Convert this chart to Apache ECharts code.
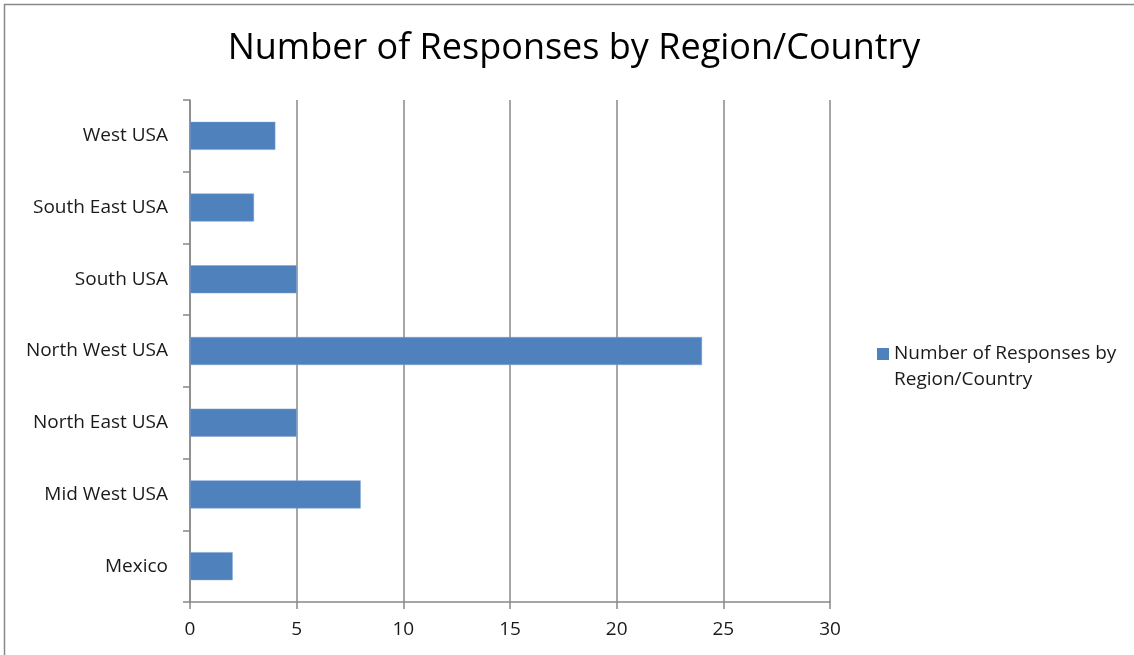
<!DOCTYPE html>
<html>
<head>
<meta charset="utf-8">
<script src="https://cdn.jsdelivr.net/npm/echarts@6/dist/echarts.min.js"></script>
<style>
html,body{margin:0;padding:0;background:#fff;}
#chart{width:1134px;height:655px;}
</style>
</head>
<body>
<div id="chart"></div>
<script>
var titleText = 'Number of Responses by Region/Country';
var seriesName = 'Number of Responses by Region/Country';
var categories = ['Mexico', 'Mid West USA', 'North East USA', 'North West USA', 'South USA', 'South East USA', 'West USA'];
var values = [2, 8, 5, 24, 5, 3, 4];
var xTicks = [0, 5, 10, 15, 20, 25, 30];

var chart = echarts.init(document.getElementById('chart'));
var font = '"Open Sans", "Liberation Sans", sans-serif';
chart.setOption({
  backgroundColor: '#ffffff',
  animation: false,
  graphic: [{
    type: 'rect',
    shape: {x: 4.5, y: 4.5, width: 1140, height: 670},
    style: {fill: 'none', stroke: '#888888', lineWidth: 1.5},
    silent: true
  }],
  title: {
    text: titleText,
    left: 569,
    textAlign: 'center',
    top: 26,
    textStyle: {fontFamily: font, fontSize: 36, fontWeight: 'normal', color: '#000000'}
  },
  legend: {
    left: 872,
    top: 336,
    padding: 5,
    itemWidth: 12,
    itemHeight: 38,
    itemGap: 8,
    icon: 'path://M0,0L12,0L12,12L0,12Z M0,38L12,38',
    itemStyle: {borderWidth: 0, color: '#4F81BD'},
    data: [seriesName],
    formatter: function () { return 'Number of Responses by\nRegion/Country'; },
    textStyle: {fontFamily: font, fontSize: 19, color: '#1a1a1a', lineHeight: 26}
  },
  grid: {left: 190, right: 304, top: 100, bottom: 53, containLabel: false},
  xAxis: {
    type: 'value',
    min: 0,
    max: 30,
    interval: 5,
    axisLine: {show: true, lineStyle: {color: '#888888', width: 1.5}},
    axisTick: {show: true, length: 7, lineStyle: {color: '#888888', width: 1.5}},
    splitLine: {show: true, lineStyle: {color: '#888888', width: 1.5}},
    axisLabel: {
      fontFamily: font, fontSize: 19, color: '#1a1a1a', margin: 18,
      formatter: function (v) { return xTicks.indexOf(v) >= 0 ? String(v) : ''; }
    }
  },
  yAxis: {
    type: 'category',
    data: categories,
    axisLine: {show: true, lineStyle: {color: '#888888', width: 1.5}},
    axisTick: {show: true, length: 7, lineStyle: {color: '#888888', width: 1.5}},
    axisLabel: {fontFamily: font, fontSize: 19, color: '#1a1a1a', margin: 22}
  },
  series: [{
    name: seriesName,
    type: 'bar',
    data: values,
    barWidth: 28,
    itemStyle: {color: '#4F81BD', borderColor: '#7aa0d0', borderWidth: 0.5}
  }]
});
</script>
</body>
</html>
